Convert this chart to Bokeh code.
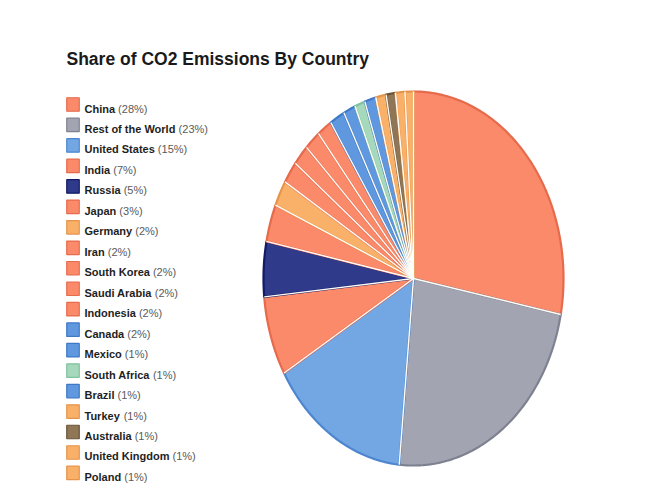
import numpy as np
from bokeh.plotting import figure
from bokeh.models import Range1d
from bokeh.core.properties import value
from bokeh.embed import file_html
from bokeh.resources import INLINE

# ---- data ----
countries = ["China", "Rest of the World", "United States", "India", "Russia", "Japan",
             "Germany", "Iran", "South Korea", "Saudi Arabia", "Indonesia", "Canada",
             "Mexico", "South Africa", "Brazil", "Turkey", "Australia", "United Kingdom", "Poland"]
shares = [27.8, 23.2, 14.9, 6.8, 4.7, 3.2, 2.2, 1.9, 1.8, 1.7, 1.6, 1.6,
          1.3, 1.1, 1.2, 1.1, 1.0, 1.0, 0.9]
pct_labels = ["28%", "23%", "15%", "7%", "5%", "3%", "2%", "2%", "2%", "2%", "2%", "2%",
              "1%", "1%", "1%", "1%", "1%", "1%", "1%"]
title_text = "Share of CO2 Emissions By Country"

# ---- styles ----
SAL, SAL_D = "#FA8A6A", "#E66A4C"
GRY, GRY_D = "#A2A5B1", "#7E8290"
BLU, BLU_D = "#72A7E3", "#4D86CF"
BL2, BL2_D = "#5F98DE", "#3F78C6"
NAV, NAV_D = "#2F3A8A", "#121A66"
ORG, ORG_D = "#F9B068", "#E6944A"
GRN, GRN_D = "#A6D8BC", "#80C19E"
BRN, BRN_D = "#8E7656", "#6A5437"
fills = [SAL, GRY, BLU, SAL, NAV, SAL, ORG, SAL, SAL, SAL, SAL, BL2, BL2, GRN, BL2, ORG, BRN, ORG, ORG]
edges = [SAL_D, GRY_D, BLU_D, SAL_D, NAV_D, SAL_D, ORG_D, SAL_D, SAL_D, SAL_D, SAL_D, BL2_D, BL2_D,
         GRN_D, BL2_D, ORG_D, BRN_D, ORG_D, ORG_D]

W, H = 645, 486
p = figure(width=W, height=H, output_backend="svg", toolbar_location=None,
           x_range=Range1d(0, W), y_range=Range1d(0, H), min_border=0)
p.axis.visible = False
p.grid.visible = False
p.outline_line_color = None
p.background_fill_color = "white"

# ---- pie (elliptical) ----
cx, cy, rx, ry = 413, 208, 150, 187
vals = np.array(shares, dtype=float)
frac = vals / vals.sum()
cum = np.concatenate([[0.0], np.cumsum(frac)])
xs, ys = [], []
for i in range(len(vals)):
    n = max(8, int(frac[i] * 400))
    th = np.pi / 2 - 2 * np.pi * np.linspace(cum[i], cum[i + 1], n)
    xs.append([cx] + list(cx + rx * np.cos(th)) + [cx])
    ys.append([cy] + list(cy + ry * np.sin(th)) + [cy])
p.patches(xs, ys, fill_color=fills, line_color=edges, line_width=2.2)
bth = np.pi / 2 - 2 * np.pi * cum[:-1]
p.segment(x0=[cx] * len(bth), y0=[cy] * len(bth),
          x1=list(cx + rx * np.cos(bth)), y1=list(cy + ry * np.sin(bth)),
          line_color="#FFFDF8", line_width=1.4)

# ---- title ----
p.text(x=[66], y=[428], text=[title_text], text_font=value("Liberation Sans"),
       text_font_style="bold", text_font_size="17.5px", text_color="#1a1a1a",
       text_baseline="alphabetic")

# ---- legend ----
BOLD_W = {' ': 278, 'A': 722, 'B': 722, 'C': 722, 'D': 722, 'E': 667, 'F': 611, 'G': 778, 'H': 722,
          'I': 278, 'J': 556, 'K': 722, 'L': 611, 'M': 833, 'N': 722, 'O': 778, 'P': 667, 'Q': 778,
          'R': 722, 'S': 667, 'T': 611, 'U': 722, 'V': 667, 'W': 944, 'X': 667, 'Y': 667, 'Z': 611,
          'a': 556, 'b': 611, 'c': 556, 'd': 611, 'e': 556, 'f': 333, 'g': 611, 'h': 611, 'i': 278,
          'j': 278, 'k': 556, 'l': 278, 'm': 889, 'n': 611, 'o': 611, 'p': 611, 'q': 611, 'r': 389,
          's': 556, 't': 333, 'u': 611, 'v': 556, 'w': 778, 'x': 556, 'y': 556, 'z': 500}
fs = 11.0
lx_sq, lx_txt, ly0, dy = 72.5, 84, 382, 20.47
n = len(countries)
ly = [ly0 - i * dy for i in range(n)]
p.rect(x=[lx_sq] * n, y=ly, width=12.5, height=13.5, fill_color=fills, line_color=edges, line_width=1.2)
p.text(x=[lx_txt] * n, y=[v - 4 for v in ly], text=countries, text_font=value("Liberation Sans"),
       text_font_style="bold", text_font_size=f"{fs}px", text_color="#1e1e1e", text_baseline="alphabetic")
px = [lx_txt + (sum(BOLD_W.get(c, 556) for c in name) + 278) * fs / 1000 for name in countries]
p.text(x=px, y=[v - 4 for v in ly], text=["(" + s + ")" for s in pct_labels],
       text_font=value("Liberation Sans"), text_font_size=f"{fs}px", text_color="#5a5a5a",
       text_baseline="alphabetic")

open("out.html", "w").write(file_html(p, INLINE))
